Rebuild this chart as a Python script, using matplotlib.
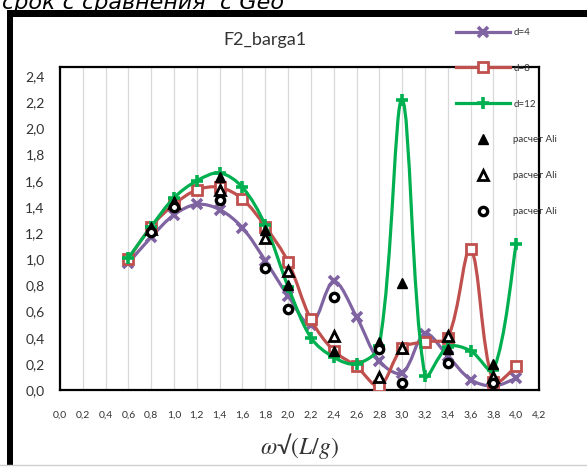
import numpy as np
import matplotlib
matplotlib.use("Agg")
import matplotlib.pyplot as plt
from matplotlib.path import Path
from matplotlib.patches import PathPatch, Rectangle
from matplotlib.lines import Line2D

plt.rcParams['font.family'] = ['Lato', 'DejaVu Sans']
plt.rcParams['mathtext.fontset'] = 'stix'

# frequencies and amplitudes for the three drafts
omega = [0.6, 0.8, 1.0, 1.2, 1.4, 1.6, 1.8, 2.0, 2.2, 2.4, 2.6, 2.8, 3.0, 3.2, 3.4, 3.6, 3.8, 4.0]
d4 = [0.97, 1.17, 1.34, 1.42, 1.38, 1.24, 0.99, 0.72, 0.50, 0.83, 0.56, 0.22, 0.13, 0.43, 0.26, 0.08, 0.03, 0.09]
d8 = [1.00, 1.25, 1.42, 1.53, 1.55, 1.46, 1.25, 0.98, 0.54, 0.30, 0.18, 0.03, 0.32, 0.37, 0.40, 1.08, 0.06, 0.18]
d12 = [1.01, 1.25, 1.47, 1.60, 1.66, 1.55, 1.26, 0.79, 0.40, 0.25, 0.20, 0.34, 2.22, 0.11, 0.33, 0.30, 0.15, 1.12]

# Ali's calculated points
omega_ali = [0.8, 1.0, 1.4, 1.8, 2.0, 2.4, 2.8, 3.0, 3.4, 3.8]
ali_1 = [1.24, 1.44, 1.63, 1.22, 0.80, 0.30, 0.37, 0.82, 0.31, 0.20]
ali_2 = [1.23, 1.43, 1.53, 1.16, 0.91, 0.41, 0.10, 0.32, 0.41, 0.10]
ali_3 = [1.21, 1.40, 1.45, 0.93, 0.62, 0.71, 0.31, 0.05, 0.21, 0.05]

x_ticks = np.round(np.arange(0, 4.21, 0.2), 1)
y_ticks = np.round(np.arange(0, 2.41, 0.2), 1)


def smooth_path(ax, x, y):
    """Smoothed line through every point; tangents are scaled by the
    neighbouring segment lengths (in screen space) to limit overshoot."""
    pts = ax.transData.transform(np.column_stack([x, y]))
    n = len(pts)
    seg = np.linalg.norm(np.diff(pts, axis=0), axis=1)
    verts = [pts[0]]
    codes = [Path.MOVETO]
    for i in range(n - 1):
        p0 = pts[max(i - 1, 0)]
        p1 = pts[i]
        p2 = pts[i + 1]
        p3 = pts[min(i + 2, n - 1)]
        d_prev = seg[i - 1] if i > 0 else seg[i]
        d_next = seg[i + 1] if i + 1 < n - 1 else seg[i]
        c1 = p1 + (p2 - p0) * seg[i] / (d_prev + seg[i]) / 3
        c2 = p2 - (p3 - p1) * seg[i] / (seg[i] + d_next) / 3
        verts += [c1, c2, p2]
        codes += [Path.CURVE4] * 3
    verts = ax.transData.inverted().transform(np.array(verts))
    return Path(verts, codes)


fig = plt.figure(figsize=(5.87, 4.68), dpi=100)
ax = fig.add_axes([60 / 587, 1 - 390 / 468, 479 / 587, 323 / 468])
ax.set_xlim(0, 4.2)
ax.set_ylim(0, 2.47)

series = [
    ('d=4', d4, '#8064A2', dict(marker='x', ms=7, mew=2.6)),
    ('d=8', d8, '#C0504D', dict(marker='s', ms=6.5, mew=2.0, mfc='white')),
    ('d=12', d12, '#00B050', dict(marker='+', ms=8, mew=2.6)),
]
handles = []
for i, (name, vals, col, mk) in enumerate(series):
    ax.add_patch(PathPatch(smooth_path(ax, omega, vals), fill=False, ec=col,
                           lw=2.3, zorder=2 + i, capstyle='round'))
    ax.plot(omega, vals, ls='none', color=col, mec=col, zorder=2 + i, **mk)
    handles.append(Line2D([], [], color=col, lw=2.3, mec=col, label=name, **mk))

ali_styles = [
    (ali_1, dict(marker='^', ms=7, color='black')),
    (ali_2, dict(marker='^', ms=7, mfc='white', mec='black', mew=2.0)),
    (ali_3, dict(marker='o', ms=6, mfc='white', mec='black', mew=2.4)),
]
for vals, mk in ali_styles:
    ax.plot(omega_ali, vals, ls='none', zorder=6, **mk)
    handles.append(Line2D([], [], ls='none', label='расчет Ali', **mk))

ax.set_xticks(x_ticks)
ax.set_xticklabels([f'{v:.1f}'.replace('.', ',') for v in x_ticks], fontsize=7.5)
ax.set_yticks(y_ticks)
ax.set_yticklabels([f'{v:.1f}'.replace('.', ',') for v in y_ticks], fontsize=10)
ax.tick_params(axis='x', length=0, pad=15, colors='#333333')
ax.tick_params(axis='y', length=0, pad=11, colors='#333333')
ax.grid(axis='x', color='#D9D9D9', lw=0.9)
ax.set_axisbelow(True)
for sp in ax.spines.values():
    sp.set_linewidth(1.6)
    sp.set_color('black')

ax.set_xlabel('$\\omega$√$(L/g)$', fontsize=17, labelpad=8, color='#333333')
fig.text(265 / 587, 1 - 40 / 468, 'F2_barga1', ha='center', va='center',
         fontsize=13, color='#333333')

fig.legend(handles=handles, loc='upper left',
           bbox_to_anchor=(456 / 587, 1 - 28 / 468), frameon=False,
           fontsize=7, labelspacing=2.76, handlelength=5.6,
           handletextpad=0.3, borderpad=0, borderaxespad=0,
           labelcolor='#333333')

# surrounding frame of the chart object
fig.add_artist(Rectangle((7 / 587, 1 - 17 / 468), 1, 7 / 468,
                         transform=fig.transFigure, color='black', lw=0))
fig.add_artist(Rectangle((7 / 587, 1 - 465 / 468), 6 / 587, 448 / 468,
                         transform=fig.transFigure, color='black', lw=0))
fig.add_artist(Line2D([0, 1], [1 - 465 / 468] * 2, transform=fig.transFigure,
                      color='#D0D0D0', lw=1))

# document text running above the chart
fig.text(2 / 587, 1 - 3 / 468, 'срок с сравнения  с Geo', ha='left',
         va='center', fontsize=16, style='italic', color='black',
         family=['DejaVu Sans'])

fig.savefig('out.png', dpi=100)
